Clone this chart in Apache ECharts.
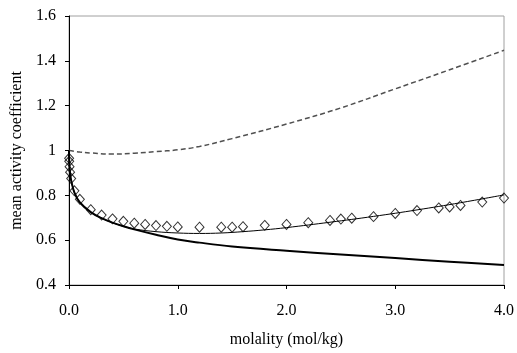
<!DOCTYPE html>
<html>
<head>
<meta charset="utf-8">
<script src="https://cdn.jsdelivr.net/npm/echarts@6/dist/echarts.min.js"></script>
<style>html,body{margin:0;padding:0;background:#fff;}#c{width:517px;height:353px;}</style>
</head>
<body>
<div id="c"></div>
<script>
// Measured mean activity coefficients (diamonds)
const dataM = [0.001,0.002,0.005,0.01,0.02,0.05,0.1,0.2,0.3,0.4,0.5,0.6,0.7,0.8,0.9,1.0,1.2,1.4,1.5,1.6,1.8,2.0,2.2,2.4,2.5,2.6,2.8,3.0,3.2,3.4,3.5,3.6,3.8,4.0];
const dataG = [0.965,0.952,0.928,0.903,0.875,0.820,0.782,0.736,0.712,0.695,0.684,0.676,0.670,0.665,0.662,0.659,0.658,0.658,0.658,0.660,0.666,0.670,0.678,0.688,0.694,0.698,0.705,0.719,0.732,0.744,0.748,0.755,0.770,0.788];

// Thin solid model curve (fits data)
const fitM = [0,0.001,0.005,0.01,0.02,0.05,0.1,0.2,0.3,0.4,0.5,0.6,0.8,1.0,1.2,1.4,1.6,1.8,2.0,2.4,2.8,3.2,3.6,4.0];
const fitG = [1.0,0.965,0.925,0.898,0.866,0.812,0.768,0.725,0.698,0.678,0.662,0.650,0.638,0.632,0.630,0.632,0.638,0.646,0.656,0.680,0.706,0.735,0.767,0.802];

// Thick solid curve
const dhM = [0,0.001,0.005,0.01,0.02,0.05,0.1,0.2,0.3,0.4,0.5,0.6,0.8,1.0,1.2,1.5,2.0,2.5,3.0,3.5,4.0];
const dhG = [1.0,0.965,0.925,0.898,0.866,0.812,0.768,0.725,0.698,0.678,0.662,0.648,0.624,0.603,0.589,0.572,0.553,0.536,0.520,0.504,0.489];

// Dashed curve
const dashM = [0,0.1,0.2,0.4,0.6,0.8,1.0,1.2,1.5,2.0,2.5,3.0,3.5,4.0];
const dashG = [1.0,0.993,0.989,0.984,0.988,0.995,1.003,1.018,1.053,1.118,1.19,1.275,1.36,1.447];

const xTicks = [0,1,2,3,4];
const yTicks = [0.4,0.6,0.8,1.0,1.2,1.4,1.6];

const zip = (a,b) => a.map((v,i)=>[v,b[i]]);
const font = 'Liberation Serif';

const chart = echarts.init(document.getElementById('c'), null, {renderer:'canvas'});
chart.setOption({
  animation: false,
  backgroundColor: '#fff',
  grid: {left: 69, top: 16, right: 12, bottom: 65, show: true, borderColor: '#a0a0a0', borderWidth: 1},
  xAxis: {
    type: 'value', min: xTicks[0], max: xTicks[xTicks.length-1], interval: 1,
    name: 'molality (mol/kg)', nameLocation: 'middle', nameGap: 47,
    nameTextStyle: {fontFamily: font, fontSize: 16, color: '#000'},
    axisLine: {show: true, lineStyle: {color: '#000', width: 1}},
    axisTick: {show: true, inside: false, length: 4, lineStyle: {color: '#000'}},
    axisLabel: {margin: 18, fontFamily: font, fontSize: 16, color: '#000', formatter: v => v.toFixed(1)},
    splitLine: {show: false}
  },
  yAxis: {
    type: 'value', min: yTicks[0], max: yTicks[yTicks.length-1], interval: 0.2,
    name: 'mean activity coefficient', nameLocation: 'middle', nameGap: 41, nameRotate: 90,
    nameTextStyle: {fontFamily: font, fontSize: 16, color: '#000'},
    axisLine: {show: true, lineStyle: {color: '#000', width: 1}},
    axisTick: {show: true, inside: false, length: 4, lineStyle: {color: '#000'}},
    axisLabel: {margin: 13, fontFamily: font, fontSize: 16, color: '#000', formatter: v => String(Math.round(v*10)/10)},
    splitLine: {show: false}
  },
  series: [
    {type: 'line', data: zip(dashM, dashG), smooth: 0.4, showSymbol: false,
     lineStyle: {color: '#505050', width: 1.5, type: [5,3]}, z: 2},
    {type: 'line', data: zip(dhM, dhG), smooth: 0.4, showSymbol: false,
     lineStyle: {color: '#000', width: 2}, z: 2},
    {type: 'line', data: zip(fitM, fitG), smooth: 0.4, showSymbol: false,
     lineStyle: {color: '#000', width: 1}, z: 3},
    {type: 'scatter', data: zip(dataM, dataG), symbol: 'diamond', symbolSize: [9,10],
     itemStyle: {color: 'rgba(0,0,0,0)', borderColor: '#000', borderWidth: 1}, z: 4}
  ]
});
</script>
</body>
</html>
